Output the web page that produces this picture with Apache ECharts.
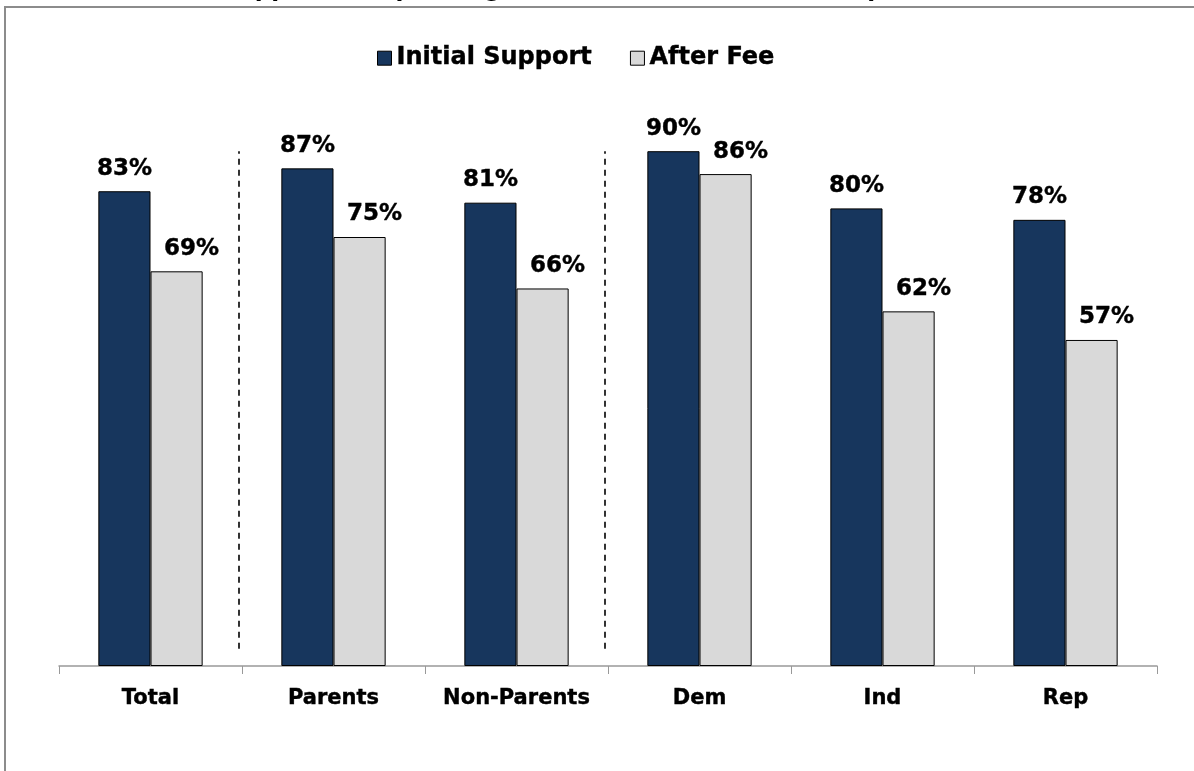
<!DOCTYPE html>
<html>
<head>
<meta charset="utf-8">
<script src="https://cdn.jsdelivr.net/npm/echarts@6/dist/echarts.min.js"></script>
<style>
  html, body { margin: 0; padding: 0; background: #fff; }
  #chart { width: 1194px; height: 771px; }
</style>
</head>
<body>
<div id="chart"></div>
<script>
var categories = ["Total", "Parents", "Non-Parents", "Dem", "Ind", "Rep"];
var initialSupport = [83, 87, 81, 90, 80, 78];
var afterFee = [69, 75, 66, 86, 62, 57];
// group separators sit between these categories (boundary index)
var separators = [1, 3];

var FONT = "DejaVu Sans";

var chart = echarts.init(document.getElementById("chart"));

function makeLabel(dx) {
  return {
    show: true,
    position: "top",
    distance: 11,
    offset: [dx, 0],
    formatter: "{c}%",
    color: "#000",
    fontFamily: FONT,
    fontWeight: "bold",
    fontSize: 23,
    textBorderColor: "#000",
    textBorderWidth: 0.4
  };
}

var option = {
  backgroundColor: "#fff",
  animation: false,
  title: {
    text: "Support for Spending Increase Remains Solid Despite Fee",
    left: "center",
    top: -21,
    padding: 0,
    textStyle: { fontFamily: FONT, fontWeight: "bold", fontSize: 23, color: "#000" }
  },
  legend: {
    top: 41,
    left: 372,
    itemWidth: 14,
    itemHeight: 14,
    itemGap: 38,
    icon: "rect",
    textStyle: {
      fontFamily: FONT, fontWeight: "bold", fontSize: 24, color: "#000",
      textBorderColor: "#000", textBorderWidth: 0.4, padding: [0, 0, 0, 0]
    },
    data: [
      { name: "Initial Support", itemStyle: { borderColor: "#000", borderWidth: 1 } },
      { name: "After Fee", itemStyle: { borderColor: "#000", borderWidth: 1 } }
    ]
  },
  grid: { left: 59, right: 37, top: 94, bottom: 105 },
  xAxis: [
    {
      type: "category",
      data: categories,
      axisLine: { lineStyle: { color: "#999", width: 1.5 } },
      axisTick: { show: true, interval: 0, length: 8, lineStyle: { color: "#999" } },
      axisLabel: {
        interval: 0,
        color: "#000", fontFamily: FONT, fontWeight: "bold", fontSize: 21, margin: 22,
        textBorderColor: "#000", textBorderWidth: 0.4
      }
    },
    {
      type: "value",
      min: 0,
      max: categories.length,
      show: false
    }
  ],
  yAxis: {
    type: "value",
    min: 0,
    max: 100,
    show: false,
    splitLine: { show: false }
  },
  graphic: [
    {
      type: "rect",
      z: 100,
      shape: { x: 5, y: 7, width: 1400, height: 900 },
      style: { fill: "none", stroke: "#8c8c8c", lineWidth: 2 }
    }
  ],
  series: [
    {
      name: "Initial Support",
      type: "bar",
      data: initialSupport,
      barGap: "0%",
      barCategoryGap: "43%",
      itemStyle: { color: "#17365d", borderColor: "#000", borderWidth: 1 },
      label: makeLabel(0)
    },
    {
      name: "After Fee",
      type: "bar",
      data: afterFee,
      itemStyle: { color: "#d9d9d9", borderColor: "#000", borderWidth: 1 },
      label: makeLabel(15)
    },
    {
      name: "separators",
      type: "line",
      xAxisIndex: 1,
      data: [],
      silent: true,
      markLine: {
        symbol: "none",
        silent: true,
        label: { show: false },
        lineStyle: { color: "#000", type: [6, 5], width: 1.6 },
        data: separators.map(function (s) {
          return [{ coord: [s - 0.02, 3] }, { coord: [s - 0.02, 90] }];
        })
      }
    }
  ]
};

chart.setOption(option);
</script>
</body>
</html>
